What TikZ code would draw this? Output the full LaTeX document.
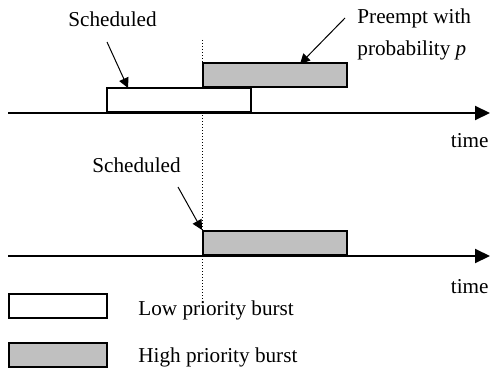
\documentclass[tikz,border=0pt]{standalone}
\usepackage{fontspec}
\setmainfont{Liberation Serif}
\usetikzlibrary{arrows.meta}
\definecolor{burstgray}{RGB}{192,192,192}
\tikzset{burst/.style={draw,line width=1pt,rectangle,inner sep=0pt,
		minimum width=72pt,minimum height=12pt},
	lowburst/.style={burst,fill=white},
	highburst/.style={burst,fill=burstgray},
	label/.style={inner sep=0pt,font=\fontsize{10.6}{12}\selectfont},
	pointer/.style={-{Triangle[length=5pt,width=5pt]},line width=0.5pt}}

\begin{document}
\begin{tikzpicture}[x=0.5pt,y=-0.5pt]
		\useasboundingbox (0,0) rectangle (490,369);
		% time axes
		\coordinate (ax1s) at (8,113);
		\coordinate (ax1e) at (490,113);
		\coordinate (ax2s) at (8,256);
		\coordinate (ax2e) at (490,256);
		\coordinate (dtop) at (202,40);
		\coordinate (dbot) at (202,302);
		\draw [line width=0.5pt,densely dotted] (dtop) -- (dbot);
		\begin{scope}[-{Triangle[length=7.5pt,width=7pt]},line width=1pt]
			\draw (ax1s) -- (ax1e);
			\draw (ax2s) -- (ax2e);
		\end{scope}
		% bursts
		\node (low1) [lowburst,anchor=south west] at (106,113) {};
		\node (high1) [highburst,anchor=south west] at (202,88) {};
		\node (high2) [highburst,anchor=south west] at (202,256) {};
		% labels
		\begin{scope}[every node/.style={label,anchor=base west}]
			\node (sched1) at (68,27) {Scheduled};
			\node (preempt) at (357,24) {Preempt with};
			\node (prob) at (357,55) {probability \textit{p}};
			\node (sched2) at (92,172) {Scheduled};
			\node (time1) [anchor=base east] at (489,147) {time};
			\node (time2) [anchor=base east] at (489,293) {time};
		\end{scope}
		% pointers
		\coordinate (s1tail) at (107,42);
		\coordinate (s1tip) at (128,88);
		\coordinate (ptail) at (345,18);
		\coordinate (ptip) at (300,64);
		\coordinate (s2tail) at (178,187);
		\draw [pointer] (s1tail) -- (s1tip);
		\draw [pointer] (ptail) -- (ptip);
		\draw [pointer] (s2tail) -- (high2.north west);
		% legend
		\node (lowkey) [lowburst,anchor=north west,minimum width=49pt] at (8,293) {};
		\node (highkey) [highburst,anchor=north west,minimum width=49pt] at (8,342) {};
		\node (lowtxt) [label,anchor=base west] at (138,315) {Low priority burst};
		\node (hightxt) [label,anchor=base west] at (138,362) {High priority burst};
	\end{tikzpicture}
\end{document}
